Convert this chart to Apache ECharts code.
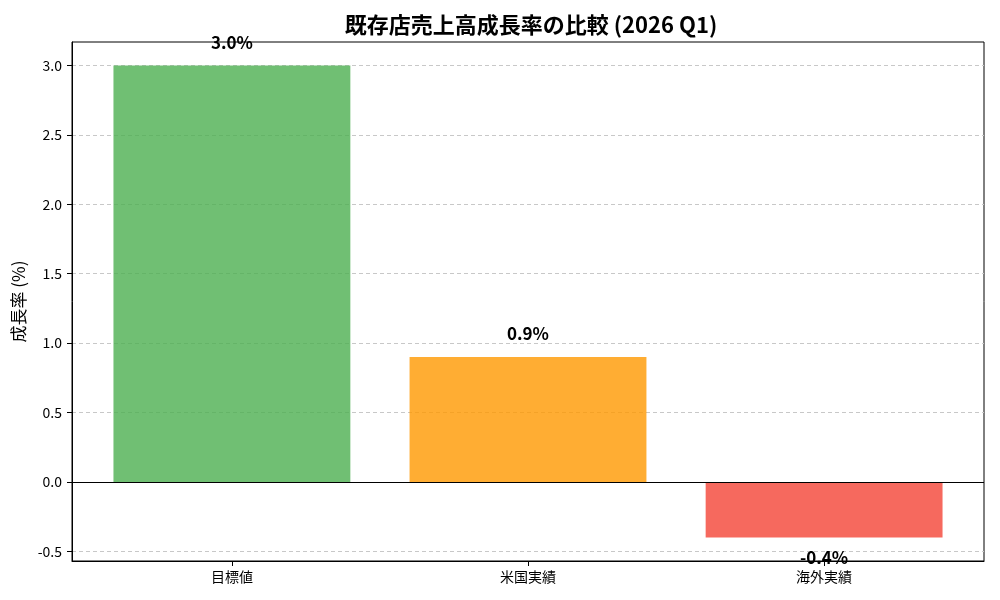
<!DOCTYPE html>
<html><head><meta charset="utf-8">
<script src="https://cdn.jsdelivr.net/npm/echarts@6/dist/echarts.min.js"></script>
<style>html,body{margin:0;padding:0;background:#fff}#c{width:1000px;height:600px}</style>
</head><body><div id="c"></div>
<script>
const categories = ['目標値', '米国実績', '海外実績'];
const values = [3.0, 0.9, -0.4];
const colors = ['rgba(76,175,80,0.8)', 'rgba(255,152,0,0.8)', 'rgba(244,67,54,0.8)'];
const yTicks = [-0.5, 0.0, 0.5, 1.0, 1.5, 2.0, 2.5, 3.0];
const titleText = '既存店売上高成長率の比較 (2026 Q1)';
const yName = '成長率 (%)';

const font = '"Noto Sans CJK JP", "Noto Sans", sans-serif';
const chart = echarts.init(document.getElementById('c'), null, {renderer: 'canvas'});
const xIdx = categories.map((_, i) => i);

chart.setOption({
  animation: false,
  textStyle: {fontFamily: font},
  title: {
    text: titleText, left: 526, top: 9, textAlign: 'center',
    textStyle: {fontSize: 22, fontWeight: 'bold', color: '#000', fontFamily: font}
  },
  grid: {left: 72, right: 16, top: 42, bottom: 39, show: true, borderColor: '#000', borderWidth: 1, backgroundColor: 'transparent'},
  xAxis: {
    type: 'value', min: -0.54, max: 2.54,
    axisLine: {show: true, onZero: false, lineStyle: {color: '#000'}},
    axisTick: {show: true, length: 5, customValues: xIdx, lineStyle: {color: '#000'}},
    axisLabel: {customValues: xIdx, formatter: v => categories[Math.round(v)] || '', color: '#000', fontSize: 14, margin: 9, fontFamily: font},
    splitLine: {show: false}
  },
  yAxis: {
    type: 'value', min: -0.57, max: 3.17,
    name: yName, nameLocation: 'middle', nameGap: 43,
    nameTextStyle: {fontSize: 17, color: '#000', fontFamily: font},
    axisLine: {show: true, onZero: false, lineStyle: {color: '#000'}},
    axisTick: {show: true, length: 5, customValues: yTicks, lineStyle: {color: '#000'}},
    axisLabel: {customValues: yTicks, formatter: v => v.toFixed(1), color: '#000', fontSize: 14, margin: 10, fontFamily: font},
    splitLine: {show: true, lineStyle: {color: '#c8c8c8', type: [4, 3], width: 1}}
  },
  series: [{
    type: 'bar',
    barWidth: '80%',
    z: 3,
    data: values.map((v, i) => ({
      value: [i, v],
      itemStyle: {color: colors[i]},
      label: {
        show: true,
        position: v >= 0 ? 'top' : 'bottom',
        distance: v >= 0 ? 15 : 12,
        formatter: v.toFixed(1) + '%',
        fontSize: 17, fontWeight: 'bold', color: '#000', fontFamily: font
      }
    })),
    markLine: {
      silent: true, symbol: 'none', label: {show: false},
      lineStyle: {color: '#000', width: 1, type: 'solid'},
      data: [{yAxis: 0}]
    }
  }]
});
</script></body></html>
